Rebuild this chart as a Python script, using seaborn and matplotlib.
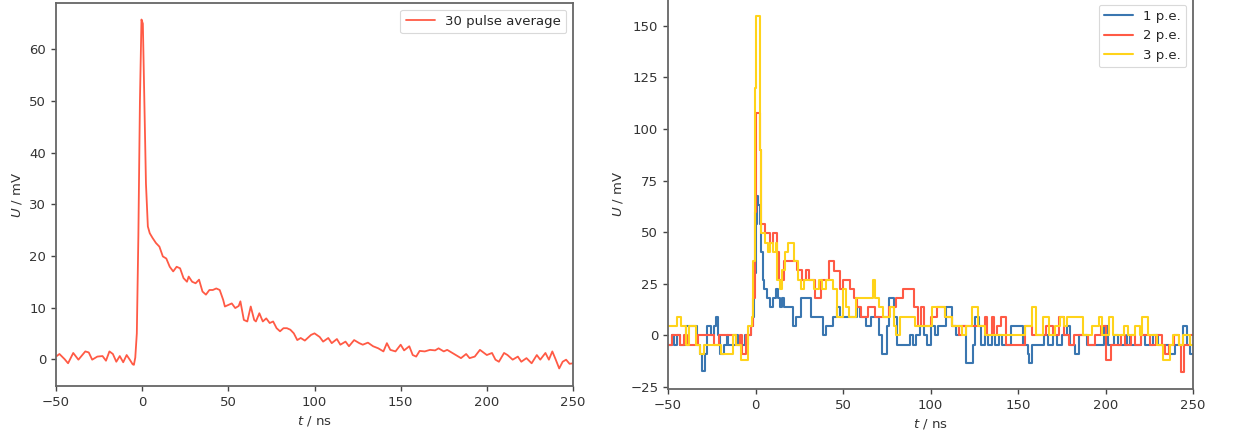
import numpy as np
import pandas as pd
import matplotlib
matplotlib.use("Agg")
import matplotlib.pyplot as plt
import seaborn as sns

# ---- averaged waveform (left panel) ----
avg_t = [-50, -48, -45, -43, -40, -37, -33, -31, -29, -26, -23, -21, -19, -17, -15, -13, -11,
         -9, -7, -5.5, -4.8, -4, -3.1, -2.2, -1.3, -0.4, 0.4, 1.3, 2.2, 3.3, 4.4, 6, 8, 10, 12,
         14, 16, 18, 20, 22, 24, 26, 27, 29, 31, 33, 35, 37, 39, 41, 43, 45, 47, 48, 50, 52, 54,
         56, 57, 59, 61, 63, 65, 66, 68, 70, 72, 74, 76, 78, 80, 82, 84, 86, 88, 90, 92, 94.4,
         98, 100, 103, 105, 108, 110, 113, 115, 118, 120, 123, 126, 128, 131, 134, 137, 140,
         142, 144, 147, 150, 152, 155, 157, 159, 161, 164, 167, 170, 172, 175, 177, 180, 183,
         185, 188, 190, 193, 196, 198, 200, 203, 205, 207, 210, 212, 215, 218, 220, 223, 226,
         229, 231, 234, 236, 238, 240, 242, 244, 246, 248, 250]
avg_mv = [0.5, 1.0, 0.0, -0.8, 1.2, -0.1, 1.5, 1.3, -0.1, 0.5, 0.6, -0.3, 1.5, 1.0, -0.5, 0.6, -0.6,
          0.8, -0.2, -1.0, -1.1, 0.3, 5.0, 24.0, 50.0, 65.8, 65.0, 50.0, 34.0, 25.7, 24.4, 23.5, 22.5, 21.8, 19.9,
          19.5, 17.9, 17.0, 17.9, 17.6, 15.7, 15.0, 16.0, 15.0, 14.7, 15.4, 13.1, 12.5, 13.4, 13.4, 13.7, 13.4, 11.5, 10.2, 10.5, 10.8, 9.9,
          10.3, 11.2, 7.6, 7.3, 10.2, 7.6, 7.3, 8.9, 7.3, 7.9, 7.0, 7.3, 6.0, 5.4, 6.0, 6.0, 5.7, 5.0, 3.7, 4.1, 3.6,
          4.7, 5.0, 4.3, 3.4, 4.1, 3.1, 3.9, 2.8, 3.4, 2.5, 3.7, 3.1, 2.8, 3.2, 2.5, 2.1, 1.5,
          3.1, 1.8, 1.5, 2.8, 1.7, 2.5, 0.8, 0.5, 1.6, 1.5, 1.8, 1.7, 2.1, 1.5, 1.8, 1.2, 0.6,
          0.2, 1.0, 0.2, 0.5, 1.8, 1.3, 0.8, 1.2, -0.1, -0.5, 1.2, 0.8, -0.1, 0.5, -0.5, 0.2, -0.8,
          0.8, -0.1, 1.2, -0.1, 1.5, -0.1, -1.8, -0.5, -0.1, -0.9, -0.8]

# ---- single-event waveforms (right panel), (time in ns, level in mV) at each level change ----
pe1_steps = [(-50, -4.5), (-48, 0), (-46.5, -4.5), (-45, 0), (-43, -4.5), (-40, 4.5), (-33.3, -4.5),
             (-32, -9), (-30.5, -17.5), (-29, -9), (-27.5, 4.5), (-25.6, 0), (-24, 4.5), (-22.7, 9),
             (-21.7, 0), (-20.2, -9), (-18, -4.5), (-16.5, 0), (-15.5, -4.5), (-11, 0), (-10, -4.5),
             (-6, 0), (-5, -4.5), (-4.4, 0), (-2.5, 4.5), (-1.5, 9), (-0.8, 30), (0, 54), (0.6, 67.5),
             (1.6, 63), (2.4, 54), (3.2, 40.5), (4.0, 27), (5.0, 22.5), (6.5, 18), (8, 13.5), (10, 18),
             (11.5, 22.5), (13, 18), (14, 13.5), (15, 18), (16, 13.5), (21.5, 4.5), (23, 9), (26, 18),
             (31.5, 9), (38.5, 0), (40.5, 4.5), (44, 9), (46.5, 13.5), (48.5, 9), (58, 13.5), (59.5, 9),
             (63, 4.5), (66, 9), (70.5, 0), (72.5, -9), (75, 4.5), (76.5, 18), (79, 9), (81, -4.5),
             (88, 0), (90, -4.5), (91.5, 0), (94, 4.5), (96.5, 0), (98, -4.5), (100.5, 4.5), (102.5, 0),
             (104.5, 4.5), (109, 13.5), (112.5, 4.5), (114.5, 0), (116, 4.5), (120.5, -13.5),
             (124.5, -4.5), (125.5, 9), (127.5, 4.5), (129, -4.5), (131, 0), (133, -4.5), (135, 0),
             (137, -4.5), (139, 0), (141, -4.5), (146, 4.5), (153, -4.5), (155.5, -9), (156.5, -13.5),
             (158, -4.5), (165, 0), (167, -4.5), (170, 0), (172, -4.5), (175, 0), (178, 4.5),
             (179.5, -4.5), (182.8, -9), (184.6, 0), (189.5, -4.5), (199, 4.5), (201.5, -4.5), (205, 0),
             (207, -4.5), (212, 0), (214, -4.5), (220, 0), (222.5, -4.5), (227, 0), (230, -4.5),
             (236, -9), (239.5, -4.5), (244.5, 4.5), (246.5, -4.5), (248.5, -9), (250, -9)]

pe2_steps = [(-50, -4.5), (-48, 0), (-43, -4.5), (-41, 0), (-39, -4.5), (-33, 0), (-23.6, -4.5),
             (-20.8, 0), (-11, -4.5), (-9, 0), (-8, -9), (-5.4, 0), (-2.5, 4.5), (-1.2, 18), (-0.4, 60),
             (0.4, 108), (2.4, 90), (3.0, 54), (5.6, 49.5), (8, 45), (10, 49.5), (12.5, 40.5),
             (13.7, 27), (16, 36), (23.5, 31.5), (26.5, 27), (29, 31.5), (30.5, 27), (34, 18),
             (37.5, 27), (42, 36), (45, 31), (48, 22.5), (50, 27), (54, 22.5), (56, 18), (58, 13.5),
             (60.5, 9), (64, 13.5), (68, 9), (76.5, 13.5), (80.5, 18), (84.5, 22.5), (90.5, 13.5),
             (93, 4.5), (94.5, 13.5), (96, 4.5), (100, 9), (103.5, 13.5), (108, 9), (112, 4.5),
             (116, 0), (118, 4.5), (131, 9), (132.5, 0), (135, 9), (136.5, 0), (138, 4.5),
             (140.5, 9), (143, -4.5), (154, 4.5), (158, 0), (166, 4.5), (170, 0), (173.5, 9),
             (176, 0), (179, -4.5), (182, 0), (190, -4.5), (194, 0), (197.5, 4.5), (200, -12),
             (203, -4.5), (209, 0), (211, -4.5), (214.5, 0), (217, -4.5), (220, 0), (225.5, -4.5),
             (229, 0), (232.5, -4.5), (234, -9), (236, -4.5), (239, 0), (242, -4.5), (243.2, -18),
             (245, -4.5), (248, 0), (250, 0)]

pe3_steps = [(-50, 4.5), (-45, 9), (-42.5, 4.5), (-40, -4.5), (-38, 4.5), (-34, -4.5), (-31.5, -9),
             (-29.5, -4.5), (-20, -9), (-13, 0), (-11, -4.5), (-8.3, -12), (-4.4, 4.5), (-2, 9),
             (-1.2, 36), (-0.4, 120), (0.4, 155), (2.6, 90), (3.4, 49.5), (5.6, 45), (7, 40.5),
             (8.5, 45), (10, 40.5), (11.5, 45), (12.5, 27), (14, 22.5), (15, 31.5), (17, 40.5),
             (18.5, 45), (22, 36), (24, 27), (26, 22.5), (27.5, 27), (33.5, 22.5), (36, 27),
             (38, 22.5), (40, 27), (44, 22.5), (46.5, 9), (50, 22.5), (51.5, 13.5), (53.5, 9),
             (57.5, 18), (67, 27), (68.5, 18), (70.5, 13.5), (73, 9), (77, 13.5), (79, 4.5),
             (80.5, 0), (82.5, 9), (91, 4.5), (101, 13.5), (108.5, 9), (112, 4.5), (118, 0),
             (120, 4.5), (123.5, 13.5), (127, 4.5), (131, 0), (154, 4.5), (158, 13.5), (160, 0),
             (164.5, 9), (167.5, 0), (171, 4.5), (174, 9), (176, 4.5), (178, 9), (187, 0),
             (192.5, 4.5), (196, 9), (198, 0), (202, 9), (204, 0), (210.5, 4.5), (213, 0),
             (217, 4.5), (219.5, 0), (221, 9), (224.5, 0), (229.5, -4.5), (233, -12), (237, -4.5),
             (238.5, 0), (242, -4.5), (244, 0), (248, -4.5), (250, -4.5)]

series_names = ["1 p.e.", "2 p.e.", "3 p.e."]
series_colors = ["#3a76b0", "#ff5a45", "#ffd31a"]
avg_label = "30 pulse average"
avg_color = "#ff5a45"

# ---- styling ----
sns.set_style("ticks")
plt.rcParams.update({
    "font.family": ["DejaVu Sans"],
    "font.size": 9,
    "axes.edgecolor": "#666666",
    "axes.linewidth": 1.3,
    "xtick.color": "#444444",
    "ytick.color": "#444444",
    "xtick.labelcolor": "#333333",
    "ytick.labelcolor": "#333333",
    "xtick.labelsize": 9.5,
    "ytick.labelsize": 9.5,
    "axes.labelcolor": "#333333",
    "axes.labelsize": 9.5,
    "legend.fontsize": 9.5,
})

W, H = 1235, 434
fig = plt.figure(figsize=(W / 100, H / 100), dpi=100)
ax1 = fig.add_axes([56 / W, 1 - 386 / H, 517 / W, 383 / H])
ax2 = fig.add_axes([668 / W, 1 - 389 / H, 525 / W, 391 / H])

# left: averaged pulse
avg_df = pd.DataFrame({"t": avg_t, "U": avg_mv})
sns.lineplot(data=avg_df, x="t", y="U", ax=ax1, color=avg_color, lw=1.3, label=avg_label)
ax1.set_xlim(-50, 250)
ax1.set_ylim(-5.2, 69)
ax1.set_yticks(np.arange(0, 61, 10))

# right: single photo-electron events as step traces
frames = []
for name, steps in zip(series_names, [pe1_steps, pe2_steps, pe3_steps]):
    t, u = zip(*steps)
    frames.append(pd.DataFrame({"t": t, "U": u, "series": name}))
pe_df = pd.concat(frames, ignore_index=True)
sns.lineplot(data=pe_df, x="t", y="U", hue="series", hue_order=series_names,
             palette=series_colors, ax=ax2, lw=1.5, drawstyle="steps-post",
             estimator=None, sort=False)
ax2.set_xlim(-50, 250)
ax2.set_ylim(-26, 163.5)
ax2.set_yticks(np.arange(-25, 151, 25))

for ax in (ax1, ax2):
    ax.set_xticks(np.arange(-50, 251, 50))
    ax.set_xlabel(r"$t$ / ns")
    ax.set_ylabel(r"$U$ / mV")
    ax.tick_params(length=3.5, width=1)
    leg = ax.legend(loc="upper right", frameon=True, fancybox=True, handlelength=2.2)
    leg.get_frame().set_edgecolor("#d0d0d0")
    leg.get_frame().set_linewidth(0.8)
    leg.set_title(None)

fig.savefig("out.png", dpi=100)
